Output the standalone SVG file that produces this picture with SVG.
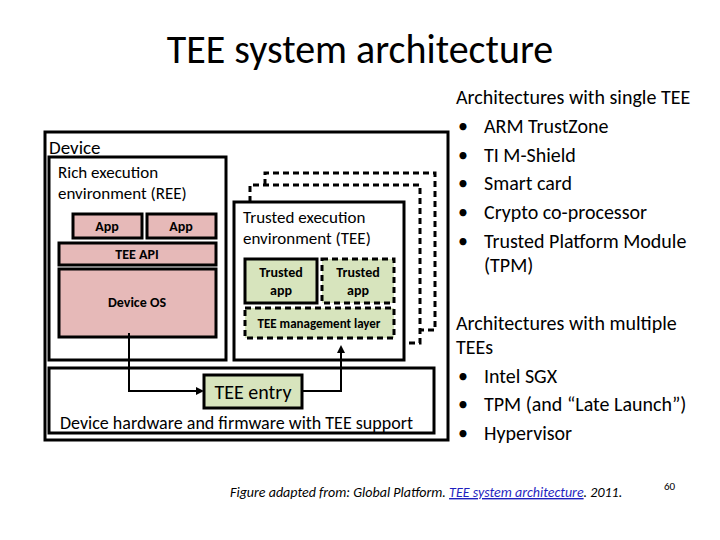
<svg xmlns="http://www.w3.org/2000/svg" width="720" height="540" viewBox="0 0 720 540">
<defs>
<style>
text{font-family:Calibri,Carlito,"Liberation Sans",sans-serif;fill:#000}
.box{fill:#fff;stroke:#000;stroke-width:3}
.pk{fill:#e6b9b8;stroke:#000;stroke-width:3}
.gr{fill:#d7e4bd;stroke:#000;stroke-width:3}
.ds{stroke-dasharray:6,4}
.b{font-weight:bold;font-size:14px}
</style>
<marker id="ah" markerWidth="8" markerHeight="8" refX="6" refY="4" orient="auto" markerUnits="userSpaceOnUse"><path d="M0,0 L8,4 L0,8 z" fill="#000"/></marker>
</defs>
<rect width="720" height="540" fill="#fff"/>
<text x="360" y="63" font-size="40" text-anchor="middle">TEE system architecture</text>
<g id="device"><rect class="box" x="45" y="132" width="403" height="308"/><text x="49" y="154" font-size="19">Device</text></g>
<g id="ree"><rect class="box" x="49" y="157" width="177" height="203"/><text x="58" y="178" font-size="17">Rich execution</text><text x="58" y="199" font-size="17">environment (REE)</text></g>
<g id="app1"><rect class="pk" x="73" y="214" width="69" height="24"/><text class="b" x="107" y="231" text-anchor="middle">App</text></g>
<g id="app2"><rect class="pk" x="147" y="214" width="69" height="24"/><text class="b" x="181" y="231" text-anchor="middle">App</text></g>
<g id="teeapi"><rect class="pk" x="59" y="243" width="157" height="22"/><text class="b" x="137" y="259" text-anchor="middle">TEE API</text></g>
<g id="deviceos"><rect class="pk" x="59" y="269" width="157" height="68"/><text class="b" x="137" y="307" text-anchor="middle">Device OS</text></g>
<g id="dash2"><path d="M265,185 V173 H435 V330 H420" fill="none" stroke="#000" stroke-width="3" class="ds"/></g>
<g id="dash1"><path d="M250,202 V185 H420 V343 H404" fill="none" stroke="#000" stroke-width="3" class="ds"/></g>
<g id="tee"><rect class="box" x="234" y="202" width="170" height="158"/><text x="243" y="223" font-size="17">Trusted execution</text><text x="243" y="244" font-size="17">environment (TEE)</text></g>
<g id="tapp1"><rect class="gr" x="245" y="259" width="72" height="44"/><text class="b" x="281" y="277" text-anchor="middle" font-size="13">Trusted</text><text class="b" x="281" y="295" text-anchor="middle">app</text></g>
<g id="tapp2"><rect class="gr ds" x="322" y="259" width="72" height="44"/><text class="b" x="358" y="277" text-anchor="middle">Trusted</text><text class="b" x="358" y="295" text-anchor="middle">app</text></g>
<g id="mgmt"><rect class="gr ds" x="245" y="308" width="149" height="30"/><text class="b" x="319" y="328" text-anchor="middle" style="font-size:13px">TEE management layer</text></g>
<g id="hw"><rect class="box" x="49" y="368" width="385" height="65"/><text x="60" y="429" font-size="18">Device hardware and firmware with TEE support</text></g>
<g id="entry"><rect class="gr" x="204" y="375" width="98" height="33"/><text x="253" y="399" font-size="20" text-anchor="middle">TEE entry</text></g>
<g id="connectors" fill="none" stroke="#000" stroke-width="2">
<path d="M129,333 V391 H202" marker-end="url(#ah)"/>
<path d="M302,391 H341 V347" marker-end="url(#ah)"/>
</g>
<g id="notes" font-size="20">
<text x="456" y="104">Architectures with single TEE</text>
<text x="458" y="133">•</text><text x="484" y="133">ARM TrustZone</text>
<text x="458" y="162">•</text><text x="484" y="162">TI M-Shield</text>
<text x="458" y="190">•</text><text x="484" y="190">Smart card</text>
<text x="458" y="219">•</text><text x="484" y="219">Crypto co-processor</text>
<text x="458" y="248">•</text><text x="484" y="248">Trusted Platform Module</text>
<text x="484" y="272">(TPM)</text>
<text x="456" y="330">Architectures with multiple</text>
<text x="456" y="354">TEEs</text>
<text x="458" y="383">•</text><text x="484" y="383">Intel SGX</text>
<text x="458" y="411">•</text><text x="484" y="411">TPM (and “Late Launch”)</text>
<text x="458" y="440">•</text><text x="484" y="440">Hypervisor</text>
</g>
<text x="230" y="497" font-size="14" font-style="italic">Figure adapted from: Global Platform. <tspan fill="#1f1fbf" text-decoration="underline">TEE system architecture</tspan>. 2011.</text>
<text x="664" y="490" font-size="11">60</text>
</svg>
